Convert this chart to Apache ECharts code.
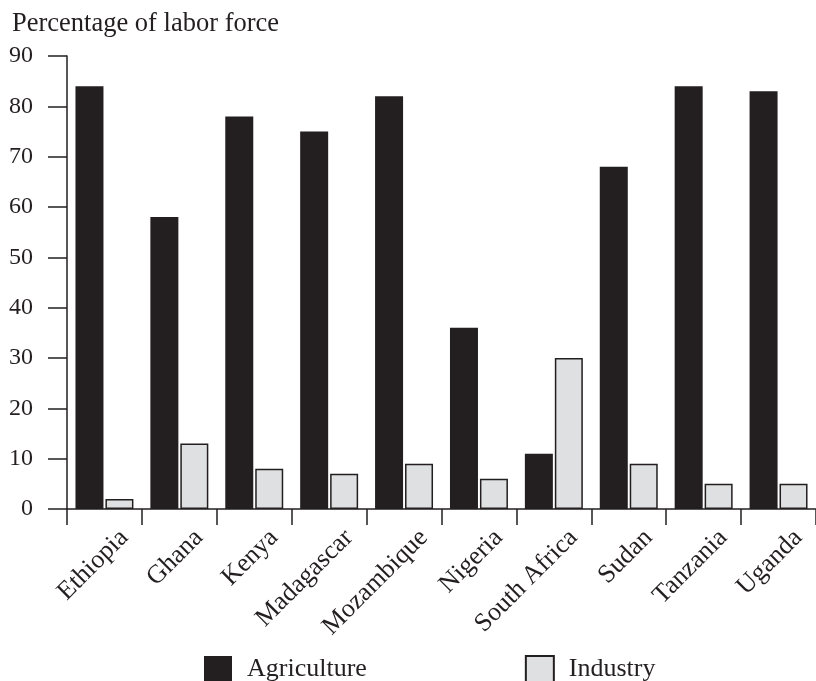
<!DOCTYPE html>
<html>
<head>
<meta charset="utf-8">
<script src="https://cdn.jsdelivr.net/npm/echarts@6/dist/echarts.min.js"></script>
<style>html,body{margin:0;padding:0;background:#fff;}#c{width:816px;height:681px;}</style>
</head>
<body>
<div id="c"></div>
<script>
const countries = ['Ethiopia','Ghana','Kenya','Madagascar','Mozambique','Nigeria','South Africa','Sudan','Tanzania','Uganda'];
const agriculture = [84, 58, 78, 75, 82, 36, 11, 68, 84, 83];
const industry = [2, 13, 8, 7, 9, 6, 30, 9, 5, 5];
const yTicks = [0, 90, 10];
const axisTitle = 'Percentage of labor force';

const FONT = '"Liberation Serif", serif';
const INK = '#231f20';
const chart = echarts.init(document.getElementById('c'), null, {renderer: 'canvas'});
chart.setOption({
  animation: false,
  backgroundColor: '#fff',
  textStyle: {fontFamily: FONT, color: INK},
  title: {
    text: axisTitle, left: 7, top: 6,
    textStyle: {fontFamily: FONT, fontSize: 26.5, fontWeight: 'normal', color: INK}
  },
  legend: {
    left: 199, top: 650, itemWidth: 28, itemHeight: 26, itemGap: 158,
    icon: 'rect',
    textStyle: {fontFamily: FONT, fontSize: 26, color: INK, padding: [0,0,0,10]},
    data: ['Agriculture', 'Industry']
  },
  grid: {left: 67, right: 0, top: 56, bottom: 172},
  xAxis: {
    type: 'category', data: countries,
    axisLine: {lineStyle: {color: INK, width: 1.5}},
    axisTick: {show: true, length: 16, lineStyle: {color: INK, width: 1.5}},
    axisLabel: {interval: 0, rotate: 45, margin: 5, verticalAlign: 'top', padding: [15, 0, 0, 0],
      fontFamily: FONT, fontSize: 26, color: INK}
  },
  yAxis: {
    type: 'value', min: yTicks[0], max: yTicks[1], interval: yTicks[2],
    axisLine: {show: true, lineStyle: {color: INK, width: 1.5}},
    axisTick: {show: true, length: 19, lineStyle: {color: INK, width: 1.5}},
    splitLine: {show: false},
    axisLabel: {margin: 34, fontFamily: FONT, fontSize: 24, color: INK}
  },
  series: [
    {name: 'Agriculture', type: 'bar', data: agriculture, barWidth: 28, barGap: '7%',
     itemStyle: {color: INK}},
    {name: 'Industry', type: 'bar', data: industry, barWidth: 28,
     itemStyle: {color: '#dfe0e1', borderColor: INK, borderWidth: 1.5}}
  ]
});
</script>
</body>
</html>
